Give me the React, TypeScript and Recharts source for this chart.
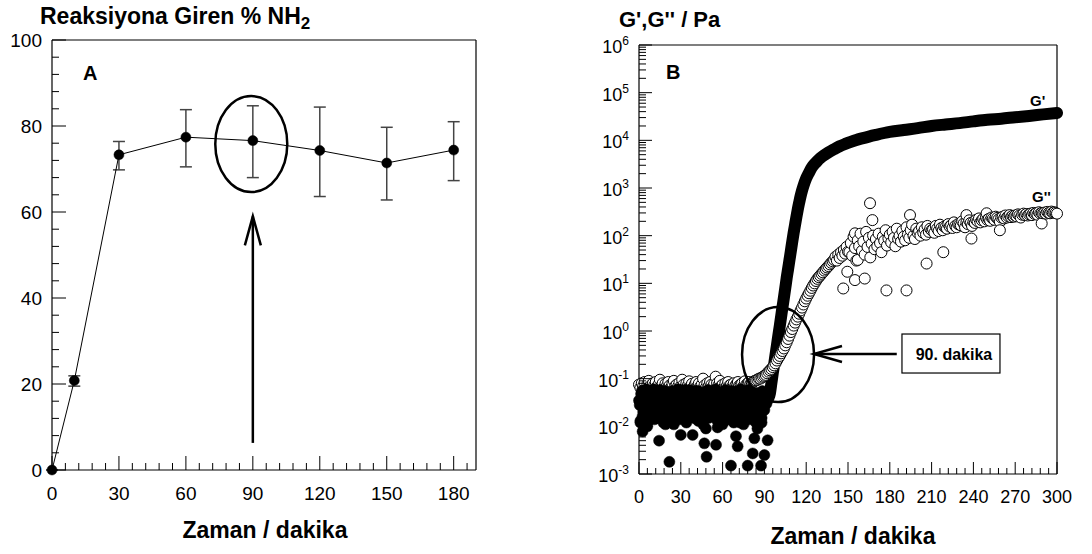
import React from 'react';
import { ComposedChart, Line, Scatter, XAxis, YAxis, ErrorBar, ReferenceLine, ReferenceDot } from 'recharts';

const FONT = '"Liberation Sans", Arial, Helvetica, sans-serif';

// ---------------- Panel A data ----------------
const timeA = [0, 10, 30, 60, 90, 120, 150, 180];
const reactedNH2 = [0, 20.8, 73.3, 77.4, 76.6, 74.3, 71.4, 74.4];
const errMinus = [0, 1.3, 3.5, 6.9, 8.6, 10.7, 8.6, 7.1];
const errPlus = [0, 1.1, 3.1, 6.4, 8.1, 10.1, 8.3, 6.6];
const xMajorA = [0, 30, 60, 90, 120, 150, 180];
const yMajorA = [0, 20, 40, 60, 80, 100];

// ---------------- Panel B data ----------------
// G' before gelation, readings on the whole minute from t = 0
const gPrimeLow = [
  0.035, 0.013, 0.055, 0.02, 0.03, 0.06, 0.012, 0.045, 0.025, 0.018,
  0.04, 0.014, 0.05, 0.028, 0.022, 0.058, 0.016, 0.05, 0.033, 0.011,
  0.045, 0.017, 0.036, 0.026, 0.055, 0.013, 0.04, 0.024, 0.06, 0.014,
  0.03, 0.052, 0.02, 0.042, 0.012, 0.033, 0.058, 0.022, 0.045, 0.015,
  0.038, 0.024, 0.056, 0.018, 0.04, 0.028, 0.011, 0.05, 0.022, 0.034,
  0.015, 0.055, 0.026, 0.042, 0.019, 0.06, 0.024, 0.038, 0.013, 0.048,
  0.028, 0.02, 0.058, 0.016, 0.035, 0.05, 0.022, 0.04, 0.012, 0.052,
  0.026, 0.044, 0.017, 0.06, 0.024, 0.038, 0.014, 0.05, 0.028, 0.018,
  0.055, 0.016, 0.042, 0.026, 0.012, 0.048, 0.02, 0.04, 0.015, 0.035,
  0.022, 0.04, 0.045,
];
// G' before gelation, readings on the half minute from t = 0.5
const gPrimeLowHalf = [
  0.028, 0.048, 0.016, 0.038, 0.022, 0.052, 0.03, 0.018, 0.044, 0.026,
  0.06, 0.02, 0.034, 0.015, 0.046, 0.024, 0.04, 0.012, 0.056, 0.03,
  0.022, 0.05, 0.014, 0.032, 0.04, 0.019, 0.052, 0.028, 0.016, 0.045,
  0.024, 0.036, 0.058, 0.014, 0.028, 0.05, 0.018, 0.034, 0.025, 0.055,
  0.02, 0.046, 0.013, 0.03, 0.052, 0.022, 0.04, 0.016, 0.036, 0.058,
  0.03, 0.018, 0.044, 0.024, 0.055, 0.014, 0.032, 0.048, 0.021, 0.038,
  0.052, 0.013, 0.03, 0.044, 0.024, 0.018, 0.056, 0.028, 0.04, 0.02,
  0.035, 0.055, 0.012, 0.032, 0.046, 0.02, 0.04, 0.026, 0.058, 0.014,
  0.03, 0.048, 0.022, 0.036, 0.05, 0.018, 0.042, 0.028, 0.055, 0.025,
  0.045, 0.03,
];
const gPrimeOutliers: [number, number][] = [
  [1, 0.012], [2.6, 0.0078], [6, 0.01], [14.4, 0.005], [21.8, 0.0018], [25, 0.011],
  [30, 0.0066], [38.5, 0.0066], [46.9, 0.0044], [48, 0.009], [48.5, 0.0023], [55.3, 0.0041],
  [56.4, 0.0095], [60, 0.011], [66, 0.0015], [69.6, 0.0062], [70.8, 0.0038], [75, 0.011],
  [78, 0.0015], [81.6, 0.0027], [82.8, 0.0056], [85, 0.009], [87.6, 0.0015], [88, 0.012],
  [90, 0.0025], [92.3, 0.0051],
];
// G' rise and plateau
const gPrimeRiseTime = [
  92, 93, 94, 95, 96, 97, 98, 99, 100, 101, 102, 103, 104, 105, 106, 107, 108, 109,
  110, 111, 112, 113, 114, 115, 116, 117, 118, 120, 122, 124, 126, 128, 130, 133,
  136, 140, 144, 148, 152, 156, 160, 165, 170, 180, 190, 200, 210, 220, 230, 240, 250,
  260, 270, 280, 290, 300,
];
const gPrimeRiseValue = [
  0.035, 0.04, 0.05, 0.08, 0.13, 0.2, 0.32, 0.5, 0.8, 1.25, 2.0, 3.2, 5, 8, 13, 20, 31, 48,
  75, 115, 170, 250, 360, 500, 680, 880, 1100, 1600, 2100, 2700, 3200, 3700, 4200, 4900,
  5600, 6500, 7500, 8400, 9300, 10200, 11000, 12000, 13000, 15000, 16500, 18000, 20000, 21500, 23000, 25000, 27000,
  28500, 30500, 32500, 35000, 37500,
];
// G'' one reading per minute: t = 0..83, 84..150, 151..300
const gDoubleLow = [
  0.075, 0.065, 0.08, 0.07, 0.085, 0.06, 0.075, 0.09, 0.07, 0.065,
  0.08, 0.072, 0.085, 0.068, 0.075, 0.095, 0.07, 0.08, 0.065, 0.078,
  0.07, 0.085, 0.072, 0.065, 0.08, 0.09, 0.07, 0.075, 0.068, 0.082,
  0.07, 0.095, 0.075, 0.065, 0.08, 0.072, 0.088, 0.07, 0.078, 0.065,
  0.075, 0.085, 0.07, 0.08, 0.068, 0.075, 0.1, 0.072, 0.065, 0.08,
  0.07, 0.085, 0.075, 0.068, 0.078, 0.11, 0.08, 0.072, 0.09, 0.07,
  0.075, 0.065, 0.08, 0.07, 0.085, 0.072, 0.075, 0.068, 0.08, 0.07,
  0.078, 0.085, 0.072, 0.075, 0.08, 0.07, 0.088, 0.075, 0.08, 0.085,
  0.078, 0.082, 0.085, 0.09,
];
const gDoubleRise = [
  0.092, 0.095, 0.1, 0.1, 0.105, 0.11, 0.115, 0.12, 0.13, 0.14,
  0.15, 0.16, 0.175, 0.19, 0.21, 0.24, 0.27, 0.3, 0.34, 0.38,
  0.43, 0.5, 0.58, 0.68, 0.8, 0.95, 1.1, 1.3, 1.5, 1.75,
  2.0, 2.3, 2.7, 3.1, 3.6, 4.2, 4.8, 5.5, 6.2, 7.0,
  8.0, 9.0, 10, 11.2, 12.4, 13.5, 14.5, 15.8, 17, 18.5,
  20, 21.5, 23, 25, 27, 29, 31, 36, 30, 40,
  34, 45, 38, 50, 42, 58, 46,
];
const gDoubleLate = [
  45, 70, 38, 95, 55, 30, 80, 60, 110, 48,
  75, 40, 120, 58, 90, 35, 68, 100, 52, 85,
  60, 110, 70, 45, 95, 78, 130, 62, 88, 105,
  72, 120, 90, 60, 140, 85, 100, 75, 125, 95,
  80, 150, 105, 90, 130, 170, 100, 85, 140, 115,
  125, 100, 150, 115, 135, 105, 160, 120, 140, 130,
  135, 115, 160, 140, 125, 170, 145, 130, 155, 150,
  140, 175, 155, 165, 145, 190, 160, 150, 175, 170,
  165, 200, 180, 150, 190, 175, 210, 185, 160, 195,
  185, 215, 200, 230, 190, 210, 225, 200, 240, 215,
  225, 205, 240, 230, 215, 250, 235, 220, 195, 240,
  250, 230, 265, 240, 255, 270, 245, 260, 250, 265,
  255, 280, 265, 240, 275, 290, 270, 285, 265, 280,
  290, 270, 300, 285, 295, 275, 310, 290, 300, 295,
  305, 290, 315, 300, 295, 320, 305, 310, 300, 290,
];
const gDoubleOutliers: [number, number][] = [
  [146.6, 7.8], [149.5, 17.5], [155, 11.7], [155, 112], [157, 31], [162, 12.6],
  [165.8, 480], [167.5, 212], [177.6, 7.1], [192, 7.1], [194.5, 270], [206.4, 26],
  [218.4, 45], [235, 270], [238.6, 87], [249.5, 295], [259, 130], [289, 180],
];
const xMajorB = [0, 30, 60, 90, 120, 150, 180, 210, 240, 270, 300];
const yExponentsB = [-3, -2, -1, 0, 1, 2, 3, 4, 5, 6];

// ---------------- derived tables ----------------
const dataA = timeA.map((t, i) => ({ t, v: reactedNH2[i], err: [errMinus[i], errPlus[i]] }));
const xTicksA = Array.from({ length: 32 }, (_, i) => i * 6);
const yTicksA = Array.from({ length: 26 }, (_, i) => i * 4);

const gPrimePts = [
  ...gPrimeLow.map((v, i) => ({ t: i, v })),
  ...gPrimeLowHalf.map((v, i) => ({ t: i + 0.5, v })),
  ...gPrimeOutliers.map(([t, v]) => ({ t, v })),
];
const gPrimeRise = gPrimeRiseTime.map((t, i) => ({ t, v: gPrimeRiseValue[i] }));
const gDoublePts = [
  ...gDoubleLow.map((v, i) => ({ t: i, v })),
  ...gDoubleRise.map((v, i) => ({ t: 84 + i, v })),
  ...gDoubleLate.map((v, i) => ({ t: 151 + i, v })),
  ...gDoubleOutliers.map(([t, v]) => ({ t, v })),
].sort((a, b) => a.t - b.t);

const xTicksB = Array.from({ length: 51 }, (_, i) => i * 6);
const yTicksB: number[] = [];
yExponentsB.forEach((e) => {
  if (e === 6) { yTicksB.push(1e6); return; }
  for (let m = 1; m <= 9; m++) yTicksB.push(Number((m * Math.pow(10, e)).toPrecision(6)));
});

// ---------------- tick renderers ----------------
const XTickA = (p: any) => {
  const { x, y, payload } = p;
  const major = xMajorA.includes(payload.value);
  return (
    <g>
      <line x1={x} y1={y} x2={x} y2={y - (major ? 14 : 7)} stroke="#000" strokeWidth={1} />
      {major && (
        <text x={x} y={y + 30} textAnchor="middle" fontSize={19} fontFamily={FONT} fill="#000">{payload.value}</text>
      )}
    </g>
  );
};
const YTickA = (p: any) => {
  const { x, y, payload } = p;
  const major = yMajorA.includes(payload.value);
  return (
    <g>
      <line x1={x} y1={y} x2={x + (major ? 14 : 7)} y2={y} stroke="#000" strokeWidth={1} />
      {major && (
        <text x={x - 10} y={y + 7} textAnchor="end" fontSize={19} fontFamily={FONT} fill="#000">{payload.value}</text>
      )}
    </g>
  );
};
const XTickB = (p: any) => {
  const { x, y, payload } = p;
  const major = xMajorB.includes(payload.value);
  return (
    <g>
      <line x1={x} y1={y} x2={x} y2={y - (major ? 12 : 6)} stroke="#000" strokeWidth={1} />
      {major && (
        <text x={x} y={y + 29} textAnchor="middle" fontSize={18} fontFamily={FONT} fill="#000">{payload.value}</text>
      )}
    </g>
  );
};
const YTickB = (p: any) => {
  const { x, y, payload } = p;
  const lg = Math.log10(payload.value);
  const exp = Math.round(lg);
  const major = Math.abs(lg - exp) < 1e-6;
  return (
    <g>
      <line x1={x} y1={y} x2={x + (major ? 13 : 7)} y2={y} stroke="#000" strokeWidth={1} />
      {major && (
        <text x={x - 10} y={y + 8} textAnchor="end" fontSize={18} fontFamily={FONT} fill="#000">
          10<tspan dy={-8} fontSize={12}>{exp}</tspan>
        </text>
      )}
    </g>
  );
};

const OpenCircle = (p: any) => (
  <circle cx={p.cx} cy={p.cy} r={5.5} fill="#fff" stroke="#000" strokeWidth={1} />
);
const FilledCircle = (p: any) => (
  <circle cx={p.cx} cy={p.cy} r={5.5} fill="#000" stroke="#000" strokeWidth={0.5} />
);

const txt = { fontFamily: FONT, fill: '#000' } as const;

export default function App() {
  return (
    <div style={{ position: 'absolute', left: 0, top: 0, width: 1092, height: 554, background: '#fff' }}>
      {/* Panel A */}
      <div style={{ position: 'absolute', left: 0, top: 0 }}>
        <ComposedChart width={546} height={554} data={dataA} margin={{ top: 40, right: 70, bottom: 83, left: 51 }}>
          <XAxis dataKey="t" type="number" domain={[0, 190]} ticks={xTicksA} interval={0} height={1}
            tickSize={0} tickMargin={0} tickLine={false} tick={XTickA} axisLine={{ stroke: '#000', strokeWidth: 1.2 }} />
          <YAxis type="number" domain={[0, 100]} ticks={yTicksA} interval={0} width={1}
            tickSize={0} tickMargin={0} tickLine={false} tick={YTickA} axisLine={{ stroke: '#000', strokeWidth: 1.2 }} />
          <ReferenceLine y={100} stroke="#000" strokeWidth={1.2} ifOverflow="visible" />
          <ReferenceLine x={190} stroke="#000" strokeWidth={1.2} ifOverflow="visible" />
          <Line dataKey="v" type="linear" stroke="#000" strokeWidth={1} isAnimationActive={false}
            dot={{ r: 5, fill: '#000', stroke: '#000', strokeWidth: 0.5 }} activeDot={false}>
            <ErrorBar dataKey="err" direction="y" width={6} stroke="#444" strokeWidth={1.5} isAnimationActive={false} />
          </Line>
          <ReferenceDot x={89.3} y={75.8} ifOverflow="visible"
            shape={(p: any) => <ellipse cx={p.cx} cy={p.cy} rx={36} ry={48} fill="none" stroke="#000" strokeWidth={2.5} />} />
          <ReferenceLine segment={[{ x: 90, y: 6.3 }, { x: 90, y: 59 }]} stroke="#000" strokeWidth={2.5} ifOverflow="visible" />
          <ReferenceDot x={90} y={59} ifOverflow="visible"
            shape={(p: any) => <path d={`M${p.cx - 8},${p.cy + 29} L${p.cx},${p.cy} L${p.cx + 8},${p.cy + 29}`} fill="none" stroke="#000" strokeWidth={2.5} />} />
        </ComposedChart>
      </div>

      {/* Panel B */}
      <div style={{ position: 'absolute', left: 546, top: 0 }}>
        <ComposedChart width={546} height={554} margin={{ top: 45, right: 35, bottom: 79, left: 92 }}>
          <XAxis dataKey="t" type="number" domain={[0, 300]} ticks={xTicksB} interval={0} height={1}
            tickSize={0} tickMargin={0} tickLine={false} tick={XTickB} axisLine={{ stroke: '#000', strokeWidth: 1.2 }} />
          <YAxis type="number" scale="log" domain={[0.001, 1000000]} ticks={yTicksB} interval={0} width={1}
            tickSize={0} tickMargin={0} tickLine={false} tick={YTickB} axisLine={{ stroke: '#000', strokeWidth: 1.2 }} />
          <ReferenceLine y={1000000} stroke="#000" strokeWidth={1.2} ifOverflow="visible" />
          <ReferenceLine x={300} stroke="#000" strokeWidth={1.2} ifOverflow="visible" />
          <Scatter data={gDoublePts} dataKey="v" isAnimationActive={false} shape={OpenCircle} />
          <Scatter data={gPrimePts} dataKey="v" isAnimationActive={false} shape={FilledCircle} />
          <Line data={gPrimeRise} dataKey="v" type="monotone" stroke="#000" strokeWidth={12} dot={false} activeDot={false}
            strokeLinecap="round" strokeLinejoin="round" isAnimationActive={false} />
          <ReferenceDot x={99.8} y={0.32} ifOverflow="visible"
            shape={(p: any) => <ellipse cx={p.cx} cy={p.cy} rx={36} ry={47.5} fill="none" stroke="#000" strokeWidth={2.5} />} />
          <ReferenceLine segment={[{ x: 125.6, y: 0.33 }, { x: 185, y: 0.33 }]} stroke="#000" strokeWidth={2.5} ifOverflow="visible" />
          <ReferenceDot x={125.6} y={0.33} ifOverflow="visible"
            shape={(p: any) => <path d={`M${p.cx + 28},${p.cy - 8} L${p.cx},${p.cy} L${p.cx + 28},${p.cy + 8}`} fill="none" stroke="#000" strokeWidth={2.5} />} />
          <ReferenceDot x={223.9} y={0.337} ifOverflow="visible"
            shape={(p: any) => (
              <g>
                <rect x={p.cx - 49} y={p.cy - 19.5} width={98} height={39} fill="#fff" stroke="#000" strokeWidth={1.2} />
                <text x={p.cx + 3} y={p.cy + 6} textAnchor="middle" fontSize={16} fontWeight="bold" {...txt}>90. dakika</text>
              </g>
            )} />
        </ComposedChart>
      </div>

      {/* Titles and labels */}
      <svg width={1092} height={554} style={{ position: 'absolute', left: 0, top: 0, pointerEvents: 'none' }}>
        <text x={40} y={24} fontSize={23} fontWeight="bold" {...txt}>
          Reaksiyona Giren % NH<tspan dy={5} fontSize={17}>2</tspan>
        </text>
        <text x={83} y={80} fontSize={20} fontWeight="bold" {...txt}>A</text>
        <text x={265} y={538} textAnchor="middle" fontSize={23} fontWeight="bold" {...txt}>Zaman / dakika</text>

        <text x={619} y={27} fontSize={22} fontWeight="bold" {...txt}>G',G'' / Pa</text>
        <text x={666} y={79} fontSize={20} fontWeight="bold" {...txt}>B</text>
        <text x={1030} y={106} fontSize={15} fontWeight="bold" {...txt}>G'</text>
        <text x={1032} y={202} fontSize={15} fontWeight="bold" {...txt}>G''</text>
        <text x={853} y={544} textAnchor="middle" fontSize={23} fontWeight="bold" {...txt}>Zaman / dakika</text>
      </svg>
    </div>
  );
}
